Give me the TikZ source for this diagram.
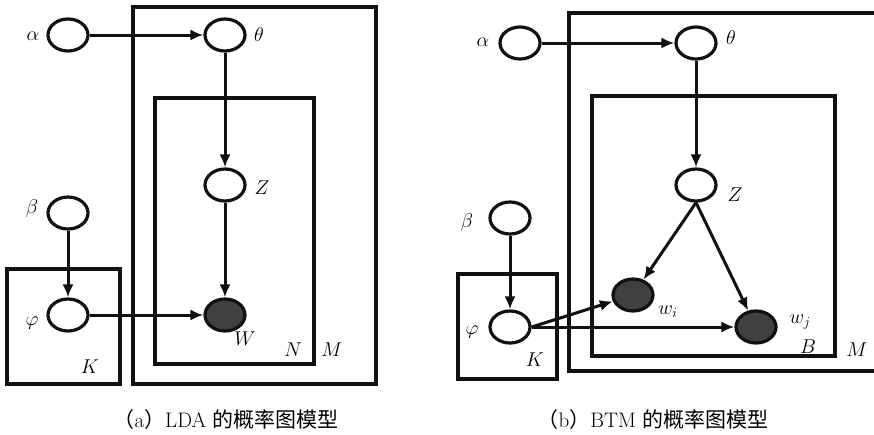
\RequirePackage{fix-cm}
\documentclass[tikz,border=0pt]{standalone}
\usepackage{fontspec}
\newfontfamily\cjk{Noto Sans CJK SC}
\usepackage{tikz}
\usetikzlibrary{shapes.geometric,arrows.meta}
\definecolor{ink}{HTML}{111111}
\definecolor{obsfill}{HTML}{404040}

\begin{document}
\begin{tikzpicture}[x=1pt,y=-1pt,
  var/.style={ellipse, draw=ink, line width=3.2pt, fill=white, minimum width=40pt, minimum height=32pt, inner sep=0pt},
  obs/.style={var, fill=obsfill},
  plate/.style={draw=ink, line width=3.2pt},
  link/.style={draw=ink, line width=3pt, -{Latex[length=13pt,width=11pt]}},
  lbl/.style={font=\fontsize{20}{24}\selectfont, inner sep=0pt},
  subcap/.style={font=\fontsize{21}{25}\selectfont, inner sep=0pt}]
\useasboundingbox (0,0) rectangle (874,434);

\draw[plate] (133,7) rectangle (376,384);
\draw[plate] (155,98) rectangle (314,364);
\draw[plate] (7,269) rectangle (120,384);

\node[var] (alphaA) at (68,35) {};
\node[var] (thetaA) at (225,35) {};
\node[var] (zA) at (225,185) {};
\node[obs] (wA) at (225,315) {};
\node[var] (betaA) at (68,213) {};
\node[var] (phiA) at (68,315) {};

\draw[link] (alphaA) -- (thetaA);
\draw[link] (thetaA) -- (zA);
\draw[link] (zA) -- (wA);
\draw[link] (betaA) -- (phiA);
\draw[link] (phiA) -- (wA);

\node[lbl] (lalphaA) at (33,36) {$\alpha$};
\node[lbl] (lthetaA) at (259,35) {$\theta$};
\node[lbl] (lzA) at (262,188) {$Z$};
\node[lbl] (lwA) at (245,339) {$W$};
\node[lbl] (lnA) at (293,350) {$N$};
\node[lbl] (lmA) at (332,350) {$M$};
\node[lbl] (lbetaA) at (32,208) {$\beta$};
\node[lbl] (lphiA) at (32,323) {$\varphi$};
\node[lbl] (lkA) at (90,367) {$K$};
\node[subcap] (capA) at (226,420) {{\cjk （}a{\cjk ）}LDA {\cjk 的概率图模型}};

\draw[plate] (885,13) -- (569,13) -- (569,371) -- (885,371);
\draw[plate] (592,96) rectangle (835,356);
\draw[plate] (458,274) rectangle (557,379);

\node[var] (alphaB) at (520,43) {};
\node[var] (thetaB) at (696,43) {};
\node[var] (zB) at (696,185) {};
\node[obs] (wiB) at (633,295) {};
\node[obs] (wjB) at (756,327) {};
\node[var] (betaB) at (510,218) {};
\node[var] (phiB) at (510,327) {};

\draw[link] (alphaB) -- (thetaB);
\draw[link] (thetaB) -- (zB);
\draw[link] (zB.south) -- (wiB);
\draw[link] (zB.south) -- (wjB);
\draw[link] (betaB) -- (phiB);
\draw[link] (phiB.east) -- (wiB);
\draw[link] (phiB) -- (wjB);

\node[lbl] (lalphaB) at (483,42) {$\alpha$};
\node[lbl] (lthetaB) at (731,38) {$\theta$};
\node[lbl] (lzB) at (735,195) {$Z$};
\node[lbl] (lwiB) at (668,312) {$w_i$};
\node[lbl] (lwjB) at (800,322) {$w_j$};
\node[lbl] (lbB) at (808,347) {$B$};
\node[lbl] (lmB) at (857,350) {$M$};
\node[lbl] (lbetaB) at (467,222) {$\beta$};
\node[lbl] (lphiB) at (472,332) {$\varphi$};
\node[lbl] (lkB) at (535,360) {$K$};
\node[subcap] (capB) at (653,420) {{\cjk （}b{\cjk ）}BTM {\cjk 的概率图模型}};
\end{tikzpicture}
\end{document}
